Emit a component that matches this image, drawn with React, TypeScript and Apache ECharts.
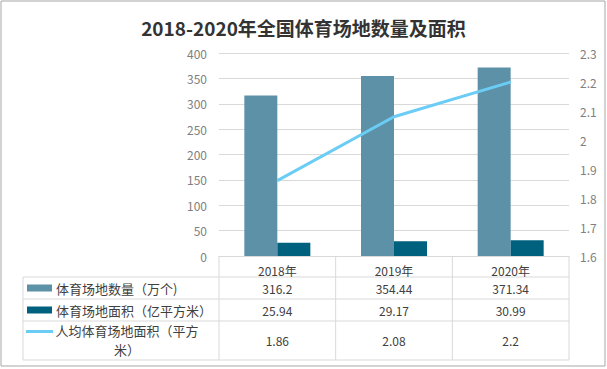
import React, { useEffect, useRef } from "react";
import * as echarts from "echarts";

const title = "2018-2020年全国体育场地数量及面积";
const categories = ["2018年", "2019年", "2020年"];
const seriesNames = ["体育场地数量（万个)", "体育场地面积（亿平方米）", "人均体育场地面积（平方米）"];
const venueCount = [316.2, 354.44, 371.34];
const venueArea = [25.94, 29.17, 30.99];
const perCapitaArea = [1.86, 2.08, 2.2];
const leftTicks = { min: 0, max: 400, interval: 50 };
const rightTicks = { min: 1.6, max: 2.3, interval: 0.1 };

const COLORS = ["#5D91A7", "#00617F", "#6BCDF5"];
const FONT = "'Noto Sans CJK SC', 'Noto Sans', sans-serif";

export default function App() {
  const ref = useRef<HTMLDivElement>(null);
  useEffect(() => {
    if (!ref.current) return;
    const chart = echarts.init(ref.current, null, { renderer: "svg" });
    const gridLeft = 219;
    const gridRight = 569;
    const gridTop = 53;
    const gridBottom = 256;
    const tableLeft = 23;
    const colW = (gridRight - gridLeft) / categories.length;
    const rowY = [256, 277, 299, 321, 360];
    const lineColor = "#D9D9D9";
    const textColor = "#404040";

    const g: any[] = [];
    g.push({ type: "rect", shape: { x: 1, y: 1, width: 604, height: 365 }, style: { fill: "none", stroke: "#A6A6A6", lineWidth: 1 }, silent: true });
    for (let i = 1; i < rowY.length; i++) {
      g.push({ type: "line", shape: { x1: tableLeft, y1: rowY[i], x2: gridRight, y2: rowY[i] }, style: { stroke: lineColor, lineWidth: 1 } });
    }
    g.push({ type: "line", shape: { x1: tableLeft, y1: rowY[1], x2: tableLeft, y2: rowY[4] }, style: { stroke: lineColor, lineWidth: 1 } });
    for (let c = 0; c <= categories.length; c++) {
      const x = gridLeft + c * colW;
      g.push({ type: "line", shape: { x1: x, y1: rowY[0], x2: x, y2: rowY[4] }, style: { stroke: lineColor, lineWidth: 1 } });
    }
    const rows = [venueCount, venueArea, perCapitaArea];
    rows.forEach((vals, r) => {
      const yc = (rowY[r + 1] + rowY[r + 2]) / 2;
      if (r < 2) {
        g.push({ type: "rect", shape: { x: 27, y: yc - 3.5, width: 25, height: 7 }, style: { fill: COLORS[r] } });
        g.push({ type: "text", x: 56, y: yc, style: { text: seriesNames[r], fill: textColor, font: `13px ${FONT}`, verticalAlign: "middle", align: "left" } });
      } else {
        g.push({ type: "line", shape: { x1: 26, y1: yc - 9, x2: 53, y2: yc - 9 }, style: { stroke: COLORS[2], lineWidth: 3 } });
        const name = seriesNames[r];
        g.push({
          type: "text",
          x: 127,
          y: yc - 0.5,
          style: {
            text: name.slice(0, 11) + "\n" + name.slice(11),
            fill: textColor,
            font: `13px ${FONT}`,
            lineHeight: 19,
            verticalAlign: "middle",
            align: "center",
          },
        });
      }
      vals.forEach((v, c) => {
        g.push({ type: "text", x: gridLeft + (c + 0.5) * colW, y: yc, style: { text: String(v), fill: textColor, font: `12px ${FONT}`, verticalAlign: "middle", align: "center" } });
      });
    });

    chart.setOption({
      animation: false,
      title: {
        text: title,
        left: "center",
        top: 13,
        textStyle: { fontSize: 19, fontWeight: "bold", color: "#333333", fontFamily: FONT },
      },
      grid: { left: gridLeft, right: 607 - gridRight, top: gridTop, bottom: 369 - gridBottom, containLabel: false },
      xAxis: {
        type: "category",
        data: categories,
        axisLine: { show: true, lineStyle: { color: lineColor } },
        axisTick: { show: false },
        axisLabel: { color: textColor, fontSize: 12, margin: 8, fontFamily: FONT },
      },
      yAxis: [
        {
          type: "value",
          min: leftTicks.min,
          max: leftTicks.max,
          interval: leftTicks.interval,
          axisLine: { show: false },
          axisTick: { show: false },
          axisLabel: { color: "#808080", fontSize: 12, margin: 12, fontFamily: FONT },
          splitLine: { lineStyle: { color: lineColor } },
        },
        {
          type: "value",
          min: rightTicks.min,
          max: rightTicks.max,
          interval: rightTicks.interval,
          axisLine: { show: false },
          axisTick: { show: false },
          axisLabel: { color: "#808080", fontSize: 12, margin: 11, fontFamily: FONT },
          splitLine: { show: false },
        },
      ],
      series: [
        { name: seriesNames[0], type: "bar", data: venueCount, barWidth: 33, barGap: "0%", itemStyle: { color: COLORS[0] } },
        { name: seriesNames[1], type: "bar", data: venueArea, barWidth: 33, barGap: "0%", itemStyle: { color: COLORS[1] } },
        { name: seriesNames[2], type: "line", yAxisIndex: 1, data: perCapitaArea, symbol: "none", lineStyle: { color: COLORS[2], width: 3 }, itemStyle: { color: COLORS[2] } },
      ],
      graphic: g,
    });
    return () => chart.dispose();
  }, []);
  return <div ref={ref} style={{ width: 607, height: 369, position: "absolute", left: 0, top: 0 }} />;
}
